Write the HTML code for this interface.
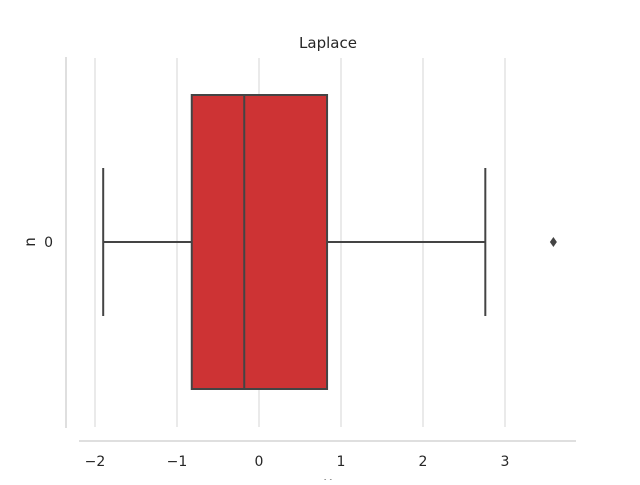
<!DOCTYPE html>
<html><head><meta charset="utf-8"><style>
body{margin:0;background:#fff}
text{font-family:"DejaVu Sans","Liberation Sans",sans-serif;fill:#262626}
</style></head><body>
<svg id="chart" width="640" height="480" xmlns="http://www.w3.org/2000/svg">
<text x="328" y="48" font-size="15" text-anchor="middle">Laplace</text>
<g id="grid"></g>
<line x1="66" y1="57" x2="66" y2="428" stroke="#cccccc" stroke-width="1.25"/>
<line x1="79" y1="441" x2="576" y2="441" stroke="#cccccc" stroke-width="1.25"/>
<g id="ticks"></g>
<text x="53" y="247" font-size="14" text-anchor="end">0</text>
<text transform="translate(35,242) rotate(-90)" font-size="15" text-anchor="middle">n</text>
<text x="328" y="488" font-size="15" text-anchor="middle">x</text>
<g id="box"></g>
</svg>
<script>
const xTicks=[-2,-1,0,1,2,3];
const stats={whiskerLow:-1.90,q1:-0.82,median:-0.18,q3:0.83,whiskerHigh:2.76};
const outliers=[3.59];
const ns="http://www.w3.org/2000/svg";
const X=v=>259+v*82;
const cy=242, bh=147, capH=74;
function mk(tag,attrs,parent){const e=document.createElementNS(ns,tag);for(const k in attrs)e.setAttribute(k,attrs[k]);parent.appendChild(e);return e;}
const grid=document.getElementById('grid'),ticks=document.getElementById('ticks'),box=document.getElementById('box');
xTicks.forEach(t=>{
  const l=mk('line',{x1:X(t),x2:X(t),y1:58,y2:427,stroke:'#d9d9d9','stroke-width':1.1},grid);
  
  
  const tx=mk('text',{x:X(t),y:466,'font-size':14,'text-anchor':'middle'},ticks);
  tx.textContent=t<0?'\u2212'+(-t):String(t);
  
  
});
const st={stroke:'#444444','stroke-width':2};
const w1=mk('line',Object.assign({x1:X(stats.whiskerLow),x2:X(stats.q1),y1:cy,y2:cy},st),box);


const w2=mk('line',Object.assign({x1:X(stats.q3),x2:X(stats.whiskerHigh),y1:cy,y2:cy},st),box);


const c1=mk('line',Object.assign({x1:X(stats.whiskerLow),x2:X(stats.whiskerLow),y1:cy-capH,y2:cy+capH},st),box);


const c2=mk('line',Object.assign({x1:X(stats.whiskerHigh),x2:X(stats.whiskerHigh),y1:cy-capH,y2:cy+capH},st),box);


const r=mk('rect',Object.assign({x:X(stats.q1),y:cy-bh,width:X(stats.q3)-X(stats.q1),height:2*bh,fill:'#cd3334'},st),box);


const m=mk('line',Object.assign({x1:X(stats.median),x2:X(stats.median),y1:cy-bh,y2:cy+bh},st),box);


outliers.forEach(o=>{
  const x=X(o);
  const p=mk('polygon',{points:`${x},${cy-5} ${x+3.5},${cy} ${x},${cy+5} ${x-3.5},${cy}`,fill:'#444444'},box);
  
  
});
</script>
</body></html>
